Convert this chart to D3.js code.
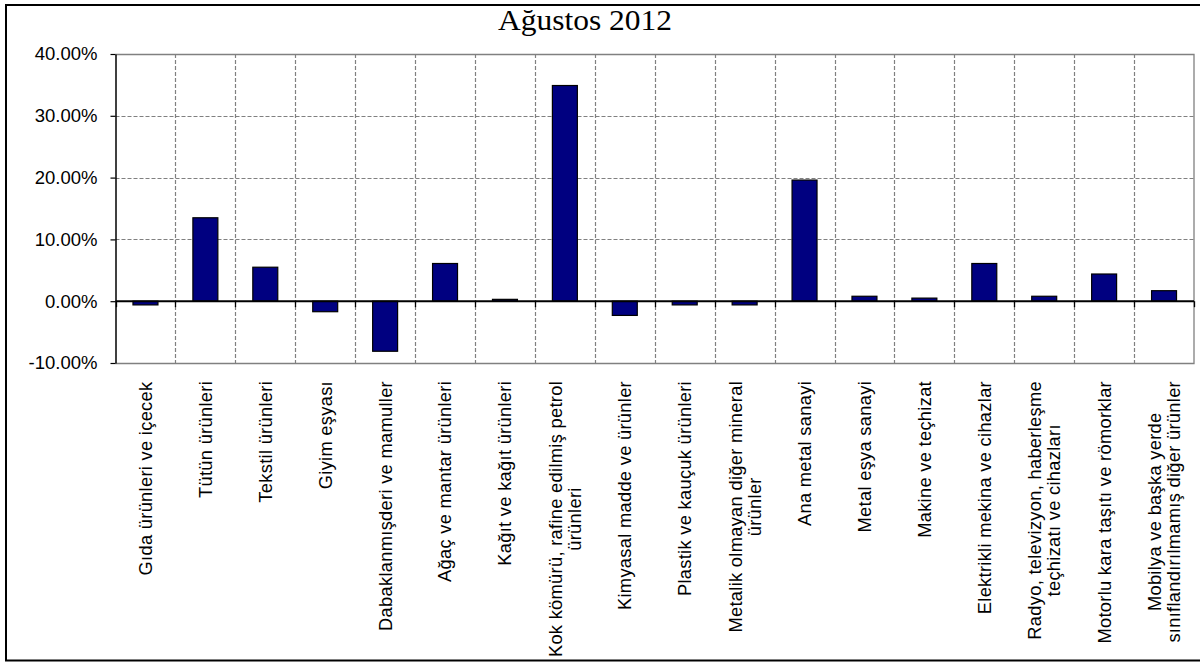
<!DOCTYPE html>
<html>
<head>
<meta charset="utf-8">
<script src="https://cdn.jsdelivr.net/npm/d3@7"></script>
<style>
  html, body { margin: 0; padding: 0; background: #fff; }
  svg { display: block; }
</style>
</head>
<body>
<svg id="chart" width="1200" height="662"></svg>
<script>
const title = "Ağustos 2012";
const categories = [
  ["Gıda ürünleri ve içecek"],
  ["Tütün ürünleri"],
  ["Tekstil ürünleri"],
  ["Giyim eşyası"],
  ["Dabaklanmışderi ve mamuller"],
  ["Ağaç ve mantar ürünleri"],
  ["Kağıt ve kağıt ürünleri"],
  ["Kok kömürü, rafine edilmiş petrol", "ürünleri"],
  ["Kimyasal madde ve ürünler"],
  ["Plastik ve kauçuk ürünleri"],
  ["Metalik olmayan diğer mineral", "ürünler"],
  ["Ana metal sanayi"],
  ["Metal eşya sanayi"],
  ["Makine ve teçhizat"],
  ["Elektrikli mekina ve cihazlar"],
  ["Radyo, televizyon, haberleşme", "teçhizatı ve cihazları"],
  ["Motorlu kara taşıtı ve römorklar"],
  ["Mobilya ve başka yerde", "sınıflandırılmamış diğer ürünler"]
];
const values = [-0.6, 13.5, 5.5, -1.7, -8.1, 6.1, 0.3, 34.9, -2.3, -0.6, -0.6, 19.6, 0.8, 0.5, 6.1, 0.8, 4.4, 1.7];
const yTicks = [-10, 0, 10, 20, 30, 40];
const yTickLabels = ["-10.00%", "0.00%", "10.00%", "20.00%", "30.00%", "40.00%"];

const svg = d3.select("#chart");
const plot = { left: 115.5, right: 1194, top: 54, bottom: 363 };
const ids = d3.range(categories.length);

const x = d3.scaleBand().domain(ids).range([plot.left, plot.right]).padding(0);
const xb = d3.scaleBand().domain(ids).range([plot.left, plot.right])
  .paddingInner(35 / 60).paddingOuter(35 / 120);
const y = d3.scaleLinear().domain([-10, 40]).range([plot.bottom, plot.top]);

// outer frame
svg.append("rect").attr("x", 6).attr("y", 5).attr("width", 1210).attr("height", 655.5)
  .attr("fill", "none").attr("stroke", "#000").attr("stroke-width", 2);

// title
svg.append("text").attr("x", 585).attr("y", 30).attr("text-anchor", "middle")
  .attr("font-family", "'Liberation Serif', 'Times New Roman', serif")
  .attr("font-size", 30).attr("fill", "#000")
  .attr("textLength", 174).attr("lengthAdjust", "spacingAndGlyphs")
  .text(title);

const grid = svg.append("g");
// horizontal gridlines
grid.selectAll("line.h").data(yTicks.filter(t => t > -10 && t < 40 && t !== 0)).join("line")
  .attr("x1", plot.left).attr("x2", plot.right)
  .attr("y1", d => Math.round(y(d)) + 0.5).attr("y2", d => Math.round(y(d)) + 0.5)
  .attr("stroke", "#808080").attr("stroke-width", 1.2).attr("stroke-dasharray", "4,2");
// vertical gridlines
grid.selectAll("line.v").data(ids.slice(1)).join("line")
  .attr("x1", d => Math.round(x(d)) + 0.5).attr("x2", d => Math.round(x(d)) + 0.5)
  .attr("y1", plot.top).attr("y2", plot.bottom)
  .attr("stroke", "#808080").attr("stroke-width", 1.2).attr("stroke-dasharray", "4,2");
// plot border (top, right, bottom)
svg.append("path")
  .attr("d", `M${plot.left},${plot.top + 0.5}H${plot.right}V${plot.bottom + 0.5}H${plot.left}`)
  .attr("fill", "none").attr("stroke", "#808080").attr("stroke-width", 1.3);

// bars
svg.append("g").selectAll("rect").data(values).join("rect")
  .attr("x", (d, i) => xb(i))
  .attr("width", xb.bandwidth())
  .attr("y", d => y(Math.max(0, d)))
  .attr("height", d => Math.abs(y(d) - y(0)))
  .attr("fill", "#000080").attr("stroke", "#000").attr("stroke-width", 1.2);

// y axis
const yAxis = d3.axisLeft(y).tickValues(yTicks).tickSize(5).tickSizeOuter(0)
  .tickFormat((d, i) => yTickLabels[i]);
const ya = svg.append("g").attr("transform", `translate(${plot.left},0)`).call(yAxis);
ya.select(".domain").attr("stroke", "#000").attr("stroke-width", 1.5);
ya.selectAll(".tick line").attr("stroke", "#000").attr("stroke-width", 1.2);
ya.selectAll(".tick text")
  .attr("x", -18).attr("font-family", "'Liberation Sans', Arial, sans-serif")
  .attr("font-size", 18.5).attr("fill", "#000");

// zero line with tick marks
svg.append("line").attr("x1", plot.left).attr("x2", plot.right)
  .attr("y1", y(0)).attr("y2", y(0)).attr("stroke", "#000").attr("stroke-width", 2);
svg.append("g").selectAll("line").data(ids.concat([categories.length])).join("line")
  .attr("x1", d => Math.round(d < categories.length ? x(d) : plot.right) + 0.5)
  .attr("x2", d => Math.round(d < categories.length ? x(d) : plot.right) + 0.5)
  .attr("y1", y(0)).attr("y2", y(0) + 6)
  .attr("stroke", "#000").attr("stroke-width", 1.3);

// category labels (rotated)
const lineH = 19;
const labelTop = 381;
const lg = svg.append("g")
  .attr("font-family", "'Liberation Sans', Arial, sans-serif")
  .attr("font-size", 18.3).style("letter-spacing", "0.3px").attr("fill", "#000");
categories.forEach((lines, i) => {
  const cx = x(i) + x.bandwidth() / 2;
  const t = lg.append("text").attr("text-anchor", "middle");
  lines.forEach((ln, j) => {
    t.append("tspan").attr("x", 0)
      .attr("y", (j - (lines.length - 1) / 2) * lineH)
      .attr("dy", "0.35em").text(ln);
  });
  const bb = t.node().getBBox();
  // rotated -90: local x -> screen -y; place the block's top (local max x) at labelTop
  const cy = labelTop + (bb.x + bb.width);
  t.attr("transform", `translate(${cx},${cy}) rotate(-90)`);
});
</script>
</body>
</html>
